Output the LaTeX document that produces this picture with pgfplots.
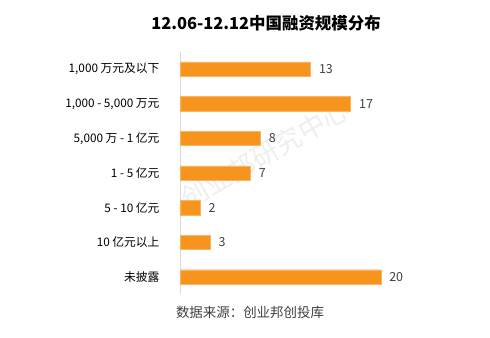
\documentclass[border=0pt]{standalone}
\usepackage{fontspec}
\setmainfont{Noto Sans CJK SC}
\usepackage{pgfplots}
\pgfplotsset{compat=1.18}
\definecolor{barorange}{RGB}{247,148,30}
\definecolor{axisgray}{RGB}{217,217,217}
\definecolor{wmgray}{RGB}{238,238,238}
\definecolor{txt}{RGB}{64,64,64}
\begin{document}
\begin{tikzpicture}[x=1bp,y=1bp]
\path[use as bounding box] (0,0) rectangle (490,337);
% watermark
\node[rotate=30,text=wmgray,font=\fontsize{27}{27}\selectfont] at (265,183) {创业邦研究中心};
\begin{axis}[
  at={(180bp,42.7bp)}, anchor=south west,
  scale only axis, width=261bp, height=242.6bp,
  xbar, bar width=14.5bp,
  xmin=0, xmax=26,
  ymin=-0.5, ymax=6.5, y dir=reverse,
  ytick={0,...,6},
  yticklabels={{1,000 万元及以下},{1,000 - 5,000 万元},{5,000 万 - 1 亿元},{1 - 5 亿元},{5 - 10 亿元},{10 亿元以上},{未披露}},
  yticklabel style={font=\fontsize{11.8}{13}\selectfont, text=black, xshift=-17bp},
  major tick length=0pt,
  axis x line=none,
  axis y line*=left,
  y axis line style={axisgray, line width=1pt, -},
  nodes near coords,
  nodes near coords style={font=\fontsize{12.5}{13}\selectfont, text=txt, xshift=5bp},
  /pgf/number format/assume math mode=true,
  clip=false,
]
\addplot[fill=barorange, draw=barorange!70!white, line width=0.4pt] coordinates {
  (13,0) (17,1) (8,2) (7,3) (2,4) (3,5) (20,6)
};
\end{axis}
\node[font=\fontsize{16.5}{17}\selectfont\bfseries, text=black] at (266,314) {12.06-12.12中国融资规模分布};
\node[font=\fontsize{13.5}{14}\selectfont, text=txt] at (250,25) {数据来源：创业邦创投库};
\end{tikzpicture}
\end{document}
